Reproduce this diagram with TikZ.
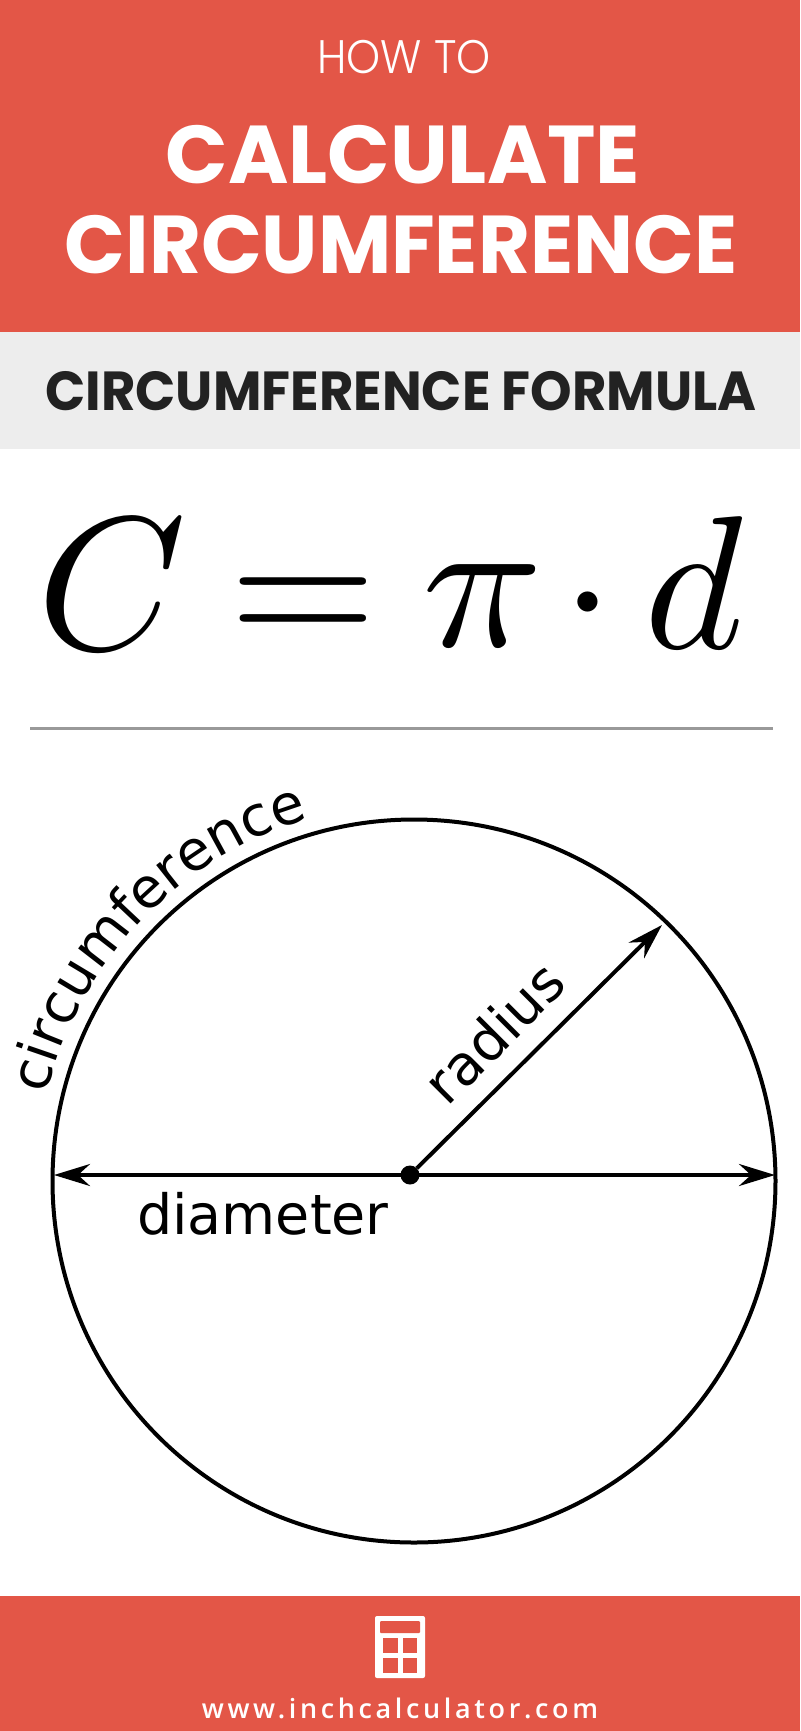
\documentclass[tikz,border=0pt]{standalone}
\usepackage{fontspec}
\usepackage{amssymb}
\usepackage{xcolor}
\usepackage{tikz}
\usetikzlibrary{arrows.meta,decorations.text}
\newfontfamily\titlefont{Poppins Bold}
\newfontfamily\lightfont{Poppins Light}
\newfontfamily\sitefont[LetterSpace=13.5]{Open Sans Semibold}
\newfontfamily\labelfont{DejaVu Sans}
\definecolor{bandred}{HTML}{E35647}
\definecolor{bandgray}{HTML}{EDEDED}
\definecolor{inkdark}{HTML}{222222}
\tikzset{
  headline/.style={text=white,font=\titlefont\fontsize{82}{82}\selectfont,inner sep=0pt},
  mathsym/.style={inner sep=0pt,scale=19},
  dimlabel/.style={inner sep=0pt,font=\labelfont\fontsize{55.5}{55.5}\selectfont},
  dimarrow/.style={line width=4pt,{Stealth[length=36pt,width=22pt,inset=12pt]}-{Stealth[length=36pt,width=22pt,inset=12pt]}},
  radarrow/.style={line width=4pt,-{Stealth[length=36pt,width=22pt,inset=12pt]}}
}
\begin{document}
\begin{tikzpicture}[x=1pt,y=-1pt]
  \useasboundingbox (0,0) rectangle (800,1731);
  \fill[bandred] (0,0) rectangle (800,332);
  \fill[bandgray] (0,332) rectangle (800,449);
  \fill[bandred] (0,1596) rectangle (800,1731);

  \node[text=white,inner sep=0pt,xscale=.92,font=\lightfont\fontsize{47}{47}\selectfont] (howto) at (404,57) {HOW TO};
  \node[headline] (calculate) at (403,155) {CALCULATE};
  \node[headline,xscale=.973] (circumf) at (401,245) {CIRCUMFERENCE};
  \node[text=inkdark,inner sep=0pt,xscale=.961,font=\titlefont\fontsize{55}{55}\selectfont] (formula) at (401,391) {CIRCUMFERENCE FORMULA};

  \node[mathsym] (symC) at (112,585) {$C$};
  \node[mathsym] (symeq) at (303,613) {$=$};
  \node[mathsym,xscale=1.05] (sympi) at (483,606) {$\pi$};
  \node[mathsym] (symdot) at (588,607) {$\cdot$};
  \node[mathsym] (symd) at (694,583) {$d$};

  \coordinate (ruleA) at (30,728);
  \coordinate (ruleB) at (773,728);
  \draw[line width=3pt,color=black!40] (ruleA) -- (ruleB);

  \node[draw,circle,line width=4pt,minimum size=723pt,inner sep=0pt] (rim) at (414,1181) {};
  \node[fill,circle,minimum size=19pt,inner sep=0pt] (centre) at (410,1175) {};
  \coordinate (diamW) at (54,1175);
  \coordinate (diamE) at (775,1175);
  \coordinate (radE) at (662,925);

  \draw[dimarrow] (diamW) -- (diamE);
  \draw[radarrow] (centre) -- (radE);

  \node[dimlabel] (diamtext) at (263,1214) {diameter};
  \node[dimlabel,rotate=45] (radtext) at (494,1032) {radius};
  \path[decorate,decoration={text along path,text align=center,
      text={|\labelfont\fontsize{55.5}{55.5}\selectfont|circumference}}]
    (37,1181) arc[start angle=180,end angle=93,radius=377pt];

  % calculator
  \fill[white,rounded corners=2pt] (375,1616) rectangle (425,1678);
  \fill[bandred,rounded corners=1pt] (380,1621) rectangle (420,1633);
  \foreach \colx in {383,402.5}
    \foreach \rowy in {1638,1658}
      \fill[bandred] (\colx,\rowy) rectangle ++(14.5,15);

  \node[text=white,inner sep=0pt,font=\sitefont\fontsize{27}{27}\selectfont] (site) at (400,1708) {www.inchcalculator.com};
\end{tikzpicture}
\end{document}
